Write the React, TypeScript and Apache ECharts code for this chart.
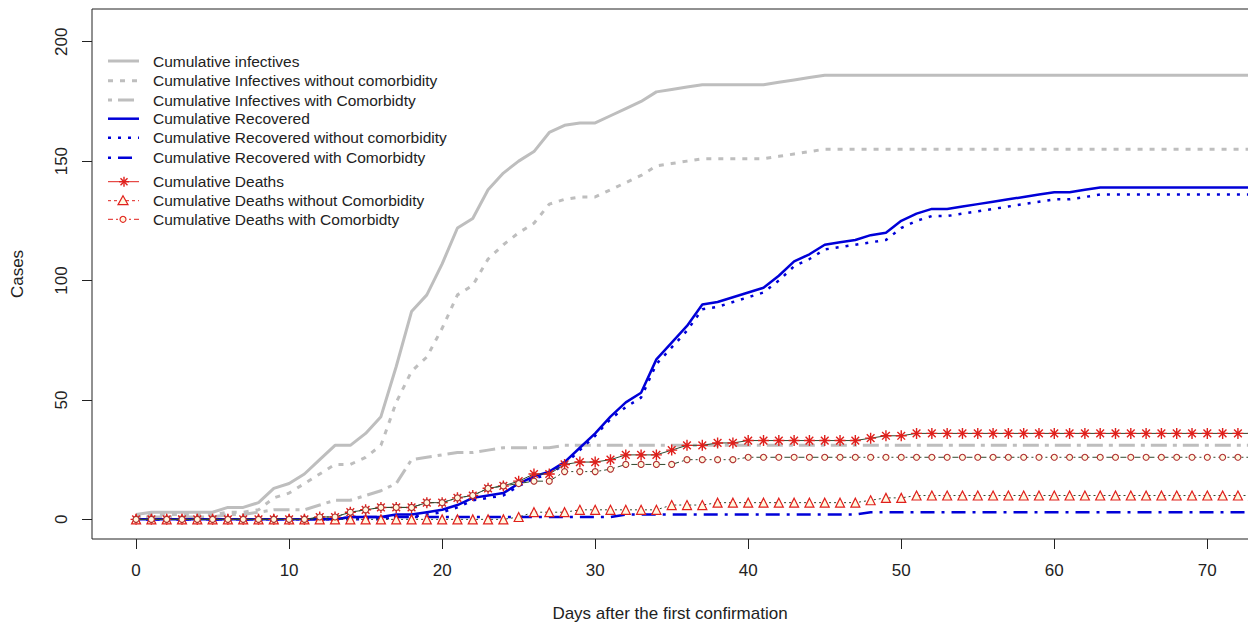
import React, { useEffect, useRef } from "react";
import * as echarts from "echarts";

const days = [0,1,2,3,4,5,6,7,8,9,10,11,12,13,14,15,16,17,18,19,20,21,22,23,24,25,26,27,28,29,30,31,32,33,34,35,36,37,38,39,40,41,42,43,44,45,46,47,48,49,50,51,52,53,54,55,56,57,58,59,60,61,62,63,64,65,66,67,68,69,70,71,72,73,74];

const infTotal = [2,3,3,3,3,3,5,5,7,13, 15,19,25,31,31,36,43,64,87,94, 107,122,126,138,145,150,154,162,165,166, 166,169,172,175,179,180,181,182,182,182, 182,182,183,184,185,186,186,186,186,186, 186,186,186,186,186,186,186,186,186,186, 186,186,186,186,186,186,186,186,186,186, 186,186,186,186,186];
const infWithout = [1,2,2,2,2,2,3,3,4,9, 11,15,19,23,23,26,31,49,62,68, 80,94,98,109,115,120,124,132,134,135, 135,138,141,144,148,149,150,151,151,151, 151,151,152,153,154,155,155,155,155,155, 155,155,155,155,155,155,155,155,155,155, 155,155,155,155,155,155,155,155,155,155, 155,155,155,155,155];
const infWith = [1,1,1,1,1,1,2,2,3,4, 4,4,6,8,8,10,12,15,25,26, 27,28,28,29,30,30,30,30,31,31, 31,31,31,31,31,31,31,31,31,31, 31,31,31,31,31,31,31,31,31,31, 31,31,31,31,31,31,31,31,31,31, 31,31,31,31,31,31,31,31,31,31, 31,31,31,31,31];

const recTotal = [0,0,0,0,0,0,0,0,0,0, 0,0,0,0,1,1,1,2,2,3, 4,6,9,10,11,15,18,20,24,30, 36,43,49,53,67,74,81,90,91,93, 95,97,102,108,111,115,116,117,119,120, 125,128,130,130,131,132,133,134,135,136, 137,137,138,139,139,139,139,139,139,139, 139,139,139,139,139];
const recWithout = [0,0,0,0,0,0,0,0,0,0, 0,0,0,0,0,0,0,1,1,2, 3,5,8,9,10,14,17,19,23,29, 35,42,47,51,65,72,79,88,89,91, 93,95,100,106,109,113,114,115,116,117, 122,125,127,127,128,129,130,131,132,133, 134,134,135,136,136,136,136,136,136,136, 136,136,136,136,136];
const recWith = [0,0,0,0,0,0,0,0,0,0, 0,0,0,0,1,1,1,1,1,1, 1,1,1,1,1,1,1,1,1,1, 1,1,2,2,2,2,2,2,2,2, 2,2,2,2,2,2,2,2,3,3, 3,3,3,3,3,3,3,3,3,3, 3,3,3,3,3,3,3,3,3,3, 3,3,3,3,3];

const deaths = [0,0,0,0,0,0,0,0,0,0, 0,0,1,1,3,4,5,5,5,7, 7,9,10,13,14,16,19,19,23,24, 24,25,27,27,27,29,31,31,32,32, 33,33,33,33,33,33,33,33,34,35, 35,36,36,36,36,36,36,36,36,36, 36,36,36,36,36,36,36,36,36,36, 36,36,36,36,36];
const deathsWithout = [0,0,0,0,0,0,0,0,0,0, 0,0,0,0,0,0,0,0,0,0, 0,0,0,0,0,1,3,3,3,4, 4,4,4,4,4,6,6,6,7,7, 7,7,7,7,7,7,7,7,8,9, 9,10,10,10,10,10,10,10,10,10, 10,10,10,10,10,10,10,10,10,10, 10,10,10,10,10];
const deathsWith = [0,0,0,0,0,0,0,0,0,0, 0,0,1,1,3,4,5,5,5,7, 7,9,10,13,14,15,16,16,20,20, 20,21,23,23,23,23,25,25,25,25, 26,26,26,26,26,26,26,26,26,26, 26,26,26,26,26,26,26,26,26,26, 26,26,26,26,26,26,26,26,26,26, 26,26,26,26,26];

const xTicks = [0, 10, 20, 30, 40, 50, 60, 70];
const yTicks = [0, 50, 100, 150, 200];

const legendNames = [
  "Cumulative infectives",
  "Cumulative Infectives without comorbidity",
  "Cumulative Infectives with Comorbidty",
  "Cumulative Recovered",
  "Cumulative Recovered without comorbidity",
  "Cumulative Recovered with Comorbidty",
  "Cumulative Deaths",
  "Cumulative Deaths without Comorbidity",
  "Cumulative Deaths with Comorbidty",
];

const FONT = "'Liberation Sans', Arial, sans-serif";
const GRAY = "#bebebe";
const BLUE = "#0000d8";
const RED = "#e0201c";
const DARK = "#2f4a2f";
const TXT = "#222";

const STAR = "path://M5 0L5 10M0 5L10 5M1.5 1.5L8.5 8.5M8.5 1.5L1.5 8.5";

function pts(arr: number[]) {
  return days.map((d, i) => [d, arr[i]]);
}

const lineStyles: any[] = [
  { color: GRAY, width: 3, type: "solid" },
  { color: GRAY, width: 3, type: [5, 7], cap: "butt" },
  { color: GRAY, width: 3, type: [4, 6, 16, 6], cap: "butt" },
  { color: BLUE, width: 2.5, type: "solid" },
  { color: BLUE, width: 2.5, type: [3, 7], cap: "butt" },
  { color: BLUE, width: 2.5, type: [3, 7, 14, 7], cap: "butt" },
  { color: DARK, width: 1, type: "solid" },
  { color: DARK, width: 1, type: [2, 3], cap: "butt" },
  { color: DARK, width: 1, type: [6, 3, 2, 3], cap: "butt" },
];

export default function App() {
  const ref = useRef<HTMLDivElement>(null);
  useEffect(() => {
    if (!ref.current) return;
    const chart = echarts.init(ref.current, undefined, { renderer: "svg" });
    const dataSets = [infTotal, infWithout, infWith, recTotal, recWithout, recWith, deaths, deathsWithout, deathsWith];
    const series: any[] = dataSets.map((arr, i) => {
      const s: any = {
        type: "line",
        name: legendNames[i],
        data: pts(arr),
        showSymbol: false,
        symbol: "none",
        lineStyle: lineStyles[i],
        emphasis: { disabled: true },
        silent: true,
        z: 2 + i,
      };
      if (i === 6) {
        s.showSymbol = true;
        s.symbol = STAR;
        s.symbolSize = 11;
        s.symbolKeepAspect = true;
        s.itemStyle = { color: RED, borderColor: RED, borderWidth: 1.4 };
      } else if (i === 7) {
        s.showSymbol = true;
        s.symbol = "triangle";
        s.symbolSize = 9;
        s.itemStyle = { color: "#fff8e0", borderColor: RED, borderWidth: 1.2 };
      } else if (i === 8) {
        s.showSymbol = true;
        s.symbol = "circle";
        s.symbolSize = 6;
        s.itemStyle = { color: "#fff8e0", borderColor: "#b03030", borderWidth: 1.1 };
      }
      return s;
    });

    const rowsY = [61, 80.7, 100, 118.7, 137.7, 157.7, 181.7, 200.7, 219.3];
    const graphics: any[] = [];
    legendNames.forEach((name, i) => {
      const y = rowsY[i];
      const ls = lineStyles[i];
      const isDeath = i >= 6;
      graphics.push({
        type: "line",
        shape: { x1: 108, y1: y, x2: 139, y2: y },
        style: {
          stroke: isDeath ? RED : ls.color,
          lineWidth: ls.width,
          lineDash: ls.type === "solid" ? null : (isDeath ? (i === 7 ? [3, 3] : [5, 3, 2, 3]) : ls.type),
        },
        silent: true,
      });
      if (i === 6) {
        const cx = 124, cy = y, r = 5;
        [[0, 1], [1, 0], [0.7, 0.7], [0.7, -0.7]].forEach(([dx, dy]) => {
          graphics.push({
            type: "line",
            shape: { x1: cx - dx * r, y1: cy - dy * r, x2: cx + dx * r, y2: cy + dy * r },
            style: { stroke: RED, lineWidth: 1.4 },
            silent: true,
          });
        });
      } else if (i === 7) {
        graphics.push({
          type: "polygon",
          shape: { points: [[123, y - 5], [128, y + 4], [118, y + 4]] },
          style: { fill: "#fff8e0", stroke: RED, lineWidth: 1.2 },
          silent: true,
        });
      } else if (i === 8) {
        graphics.push({
          type: "circle",
          shape: { cx: 123, cy: y, r: 3 },
          style: { fill: "#fff8e0", stroke: RED, lineWidth: 1.1 },
          silent: true,
        });
      }
      graphics.push({
        type: "text",
        x: 153,
        y: y,
        style: { text: name, fill: TXT, font: `15.5px ${FONT}`, textVerticalAlign: "middle", verticalAlign: "middle" },
        silent: true,
      });
    });

    chart.setOption({
      animation: false,
      backgroundColor: "#fff",
      grid: { left: 92, top: 9, width: 1190, height: 530, show: true, borderColor: TXT, borderWidth: 1, backgroundColor: "transparent", outerBoundsMode: "none", containLabel: false },
      xAxis: {
        type: "value",
        min: -2.88,
        max: 74.88,
        axisLine: { show: false, onZero: false },
        splitLine: { show: false },
        axisTick: { show: true, customValues: xTicks, length: 10, inside: false, lineStyle: { color: TXT } },
        axisLabel: { show: true, customValues: xTicks, fontSize: 17, color: TXT, margin: 23, fontFamily: FONT },
        name: "Days after the first confirmation",
        nameLocation: "middle",
        nameGap: 66,
        nameTextStyle: { fontSize: 17, color: TXT, fontFamily: FONT, padding: [0, 34, 0, 0] },
      },
      yAxis: {
        type: "value",
        min: -8.22,
        max: 213.7,
        axisLine: { show: false, onZero: false },
        splitLine: { show: false },
        axisTick: { show: true, customValues: yTicks, length: 10, inside: false, lineStyle: { color: TXT } },
        axisLabel: { show: true, customValues: yTicks, fontSize: 17, color: TXT, margin: 22, rotate: 90, fontFamily: FONT },
        name: "Cases",
        nameLocation: "middle",
        nameGap: 66,
        nameTextStyle: { fontSize: 17, color: TXT, fontFamily: FONT },
      },
      series,
      graphic: graphics,
    });
    return () => chart.dispose();
  }, []);
  return <div ref={ref} style={{ position: "absolute", left: 0, top: 0, width: 1248, height: 626 }} />;
}
